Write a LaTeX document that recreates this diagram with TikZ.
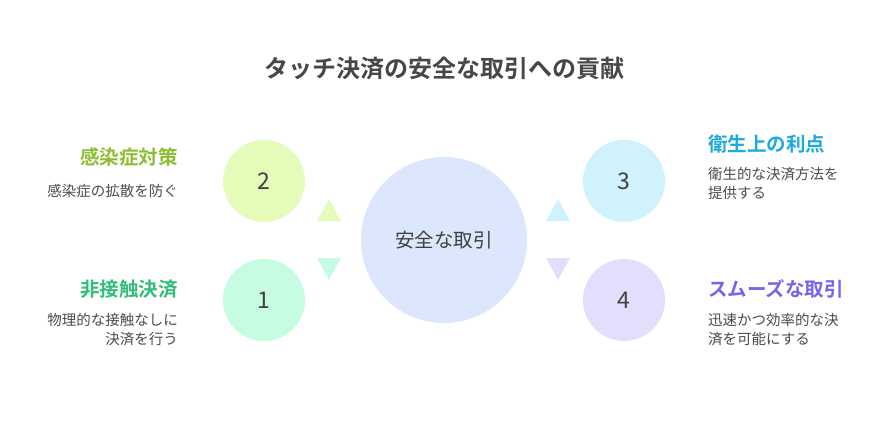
\documentclass[tikz,border=0pt]{standalone}
\usepackage{fontspec}
\setmainfont{Noto Sans CJK JP}
\newfontfamily\jpb{Noto Sans CJK JP Bold}
\definecolor{cc}{RGB}{220,230,252}
\definecolor{cy}{RGB}{228,251,186}
\definecolor{cg}{RGB}{198,252,226}
\definecolor{cb}{RGB}{208,242,252}
\definecolor{cp}{RGB}{228,222,252}
\definecolor{ty}{RGB}{140,190,50}
\definecolor{tg}{RGB}{50,190,120}
\definecolor{tb}{RGB}{30,170,220}
\definecolor{tp}{RGB}{120,100,230}
\begin{document}
\begin{tikzpicture}[x=1pt,y=-1pt,
  circ/.style={circle,draw=none,minimum size=#1,inner sep=0},
  num/.style={font=\fontsize{23}{23}\selectfont,text=black!75},
  ttl/.style={font=\jpb\fontsize{19.5}{20}\selectfont,inner sep=0},
  desc/.style={font=\fontsize{14.5}{19}\selectfont,text=black!70,align=left,inner sep=0},
  descr/.style={font=\fontsize{14.5}{19}\selectfont,text=black!70,align=right,inner sep=0}]
\useasboundingbox (0,0) rectangle (888,432);
\fill[white] (0,0) rectangle (888,432);
\node[font=\jpb\fontsize{24}{24}\selectfont,text=black!72] (title) at (444,68) {タッチ決済の安全な取引への貢献};
\node[circ=166,fill=cc] (c) at (444,240) {};
\node[font=\fontsize{19.5}{20}\selectfont,text=black!75] (ct) at (c) {安全な取引};
\node[circ=82,fill=cy] (c2) at (264,181) {};
\node[num] at (c2) {2};
\node[circ=82,fill=cg] (c1) at (264,300) {};
\node[num] at (c1) {1};
\node[circ=82,fill=cb] (c3) at (624,181) {};
\node[num] at (c3) {3};
\node[circ=82,fill=cp] (c4) at (624,300) {};
\node[num] at (c4) {4};
\fill[cy] (317,221) -- (341,221) -- (329,199) -- cycle;
\fill[cg] (317,258) -- (341,258) -- (329,280) -- cycle;
\fill[cb] (546,221) -- (570,221) -- (558,199) -- cycle;
\fill[cp] (546,258) -- (570,258) -- (558,280) -- cycle;
\node[ttl,anchor=east,text=ty] (l2) at (178,157) {感染症対策};
\node[descr,anchor=east] (d2) at (178,191) {感染症の拡散を防ぐ};
\node[ttl,anchor=east,text=tg] (l1) at (178,289) {非接触決済};
\node[descr,anchor=north east] (d1) at (178,313) {物理的な接触なしに\\決済を行う};
\node[ttl,anchor=west,text=tb] (l3) at (708,144) {衛生上の利点};
\node[desc,anchor=north west] (d3) at (708,167) {衛生的な決済方法を\\提供する};
\node[ttl,anchor=west,text=tp] (l4) at (708,289) {スムーズな取引};
\node[desc,anchor=north west] (d4) at (708,313) {迅速かつ効率的な決\\済を可能にする};
\end{tikzpicture}
\end{document}
